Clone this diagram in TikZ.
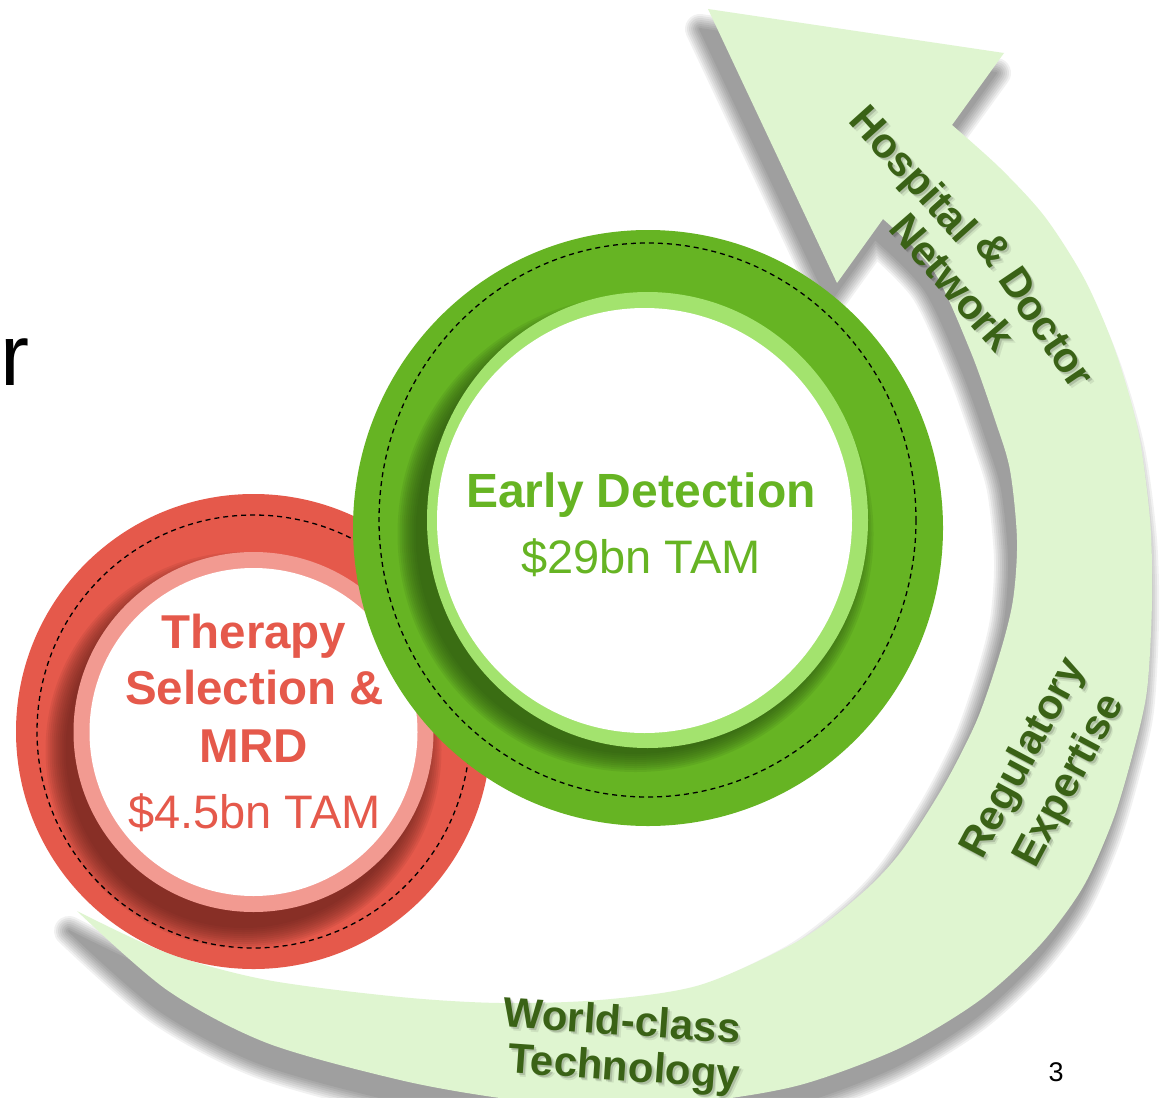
\documentclass[tikz,border=0pt]{standalone}
\usepackage{fontspec}
\setmainfont{Liberation Sans}
\usetikzlibrary{calc}

\definecolor{bandgreen}{HTML}{DFF5D0}
\definecolor{labelgreen}{HTML}{3A6216}
\definecolor{ringgreen}{HTML}{66B423}
\definecolor{lightgreen}{HTML}{A3E36E}
\definecolor{darkgreen}{HTML}{284E0F}
\definecolor{ringred}{HTML}{E5594B}
\definecolor{pinkred}{HTML}{F29A91}
\definecolor{darkred}{HTML}{5B1D17}

\tikzset{
  bandshape/.style={insert path={(708,9) -- (1004,53) -- (952,125)
    -- plot[smooth] coordinates {(952,125) (1000,168) (1045,217) (1085,280) (1115,350) (1138,430) (1150,520) (1152,600) (1147,690) (1133,753) (1113,820) (1083,887) (1040,945) (980,1000) (900,1048) (800,1085) (700,1102) (600,1108) (500,1098) (400,1080) (267,1043) (167,990) (77,911)}
    -- plot[smooth] coordinates {(77,911) (167,953) (267,980) (400,997) (500,1003) (600,1000) (700,985) (800,940) (860,895) (900,853) (943,787) (977,720) (1000,653) (1013,600) (1017,540) (1010,470) (995,420) (970,350) (933,270) (883,219)}
    -- (837,283) -- cycle}},
  dashline/.style={black, line width=1.3pt, dash pattern=on 5pt off 4pt},
  lbl/.style={font=\bfseries\fontsize{42}{50}\selectfont, text=labelgreen, inner sep=0pt},
  lblshade/.style={lbl, text=black, opacity=#1}
}

\newcommand{\bandlabel}[4]{%
  \node[lblshade=0.08, rotate=#3] (#1-s2) at ($#2+(3.5,3.5)$) {#4};
  \node[lblshade=0.15, rotate=#3] (#1-s1) at ($#2+(2,2)$) {#4};
  \node[lbl, rotate=#3] (#1) at #2 {#4};}

\begin{document}
\begin{tikzpicture}[x=1pt, y=-1pt]
\useasboundingbox (0,0) rectangle (1169,1097);
\fill[white] (0,0) rectangle (1169,1097);

% curved arrow with its shadow
\foreach \w in {30,26,...,2} {
  \begin{scope}[transparency group, opacity=0.055, shift={(-8,20)}]
    \filldraw[black, line width=\w, line join=round, bandshape];
  \end{scope}
}
\fill[bandgreen, bandshape];

% red circle
\fill[ringred] (253.5,731.5) circle (237.5);
\begin{scope}
  \clip (253.5,731.5) circle (237.5);
  \foreach \r in {178,180,...,198}
    \fill[darkred, opacity=0.09] (243.5,750) circle (\r);
\end{scope}
\draw[dashline] (253.5,731.5) circle (216.5);
\fill[pinkred] (253.5,732) circle (180);
\fill[white] (253.5,732) circle (164);

% green circle
\fill[ringgreen] (648,528) ellipse [x radius=295, y radius=298];
\begin{scope}
  \clip (648,528) ellipse [x radius=295, y radius=298];
  \foreach \r in {220,222,...,238}
    \fill[darkgreen, opacity=0.1] (635.5,534) circle (\r);
\end{scope}
\draw[dashline] (647.5,520) ellipse [x radius=268.5, y radius=277];
\fill[lightgreen] (647.5,520) ellipse [x radius=220.5, y radius=228];
\fill[white] (644.5,520.5) ellipse [x radius=207.5, y radius=212.5];

% circle texts
\node[anchor=base, text=ringgreen, font=\bfseries\fontsize{48}{57}\selectfont] (early) at (641,507) {Early Detection};
\node[anchor=base, text=ringgreen, font=\fontsize{47}{57}\selectfont] (earlytam) at (641,573) {\$29bn TAM};
\node[anchor=base, text=ringred, font=\bfseries\fontsize{47.5}{57}\selectfont] (therapy) at (254,648) {Therapy};
\node[anchor=base, text=ringred, font=\bfseries\fontsize{47.5}{57}\selectfont] (selection) at (254.5,704) {Selection \&};
\node[anchor=base, text=ringred, font=\bfseries\fontsize{47.5}{57}\selectfont] (mrd) at (254,762) {MRD};
\node[anchor=base, text=ringred, font=\fontsize{47}{57}\selectfont] (therapytam) at (254.5,828) {\$4.5bn TAM};

% arrow labels
\bandlabel{hospital}{(911,176)}{-48}{Hospital}
\bandlabel{doctor}{(1035,310)}{-56}{\& Doctor}
\bandlabel{network}{(953,282)}{-49}{Network}
\bandlabel{regulatory}{(1024,759)}{62}{Regulatory}
\bandlabel{expertise}{(1070,781)}{62}{Expertise}
\bandlabel{world}{(622,1020)}{-4}{World-class}
\bandlabel{technology}{(624,1070)}{-4}{Technology}

\node[anchor=base west, inner sep=0pt, font=\fontsize{87}{100}\selectfont] (title) at (0,385) {r};
\node[font=\fontsize{27}{30}\selectfont] (pagenum) at (1056,1072) {3};
\end{tikzpicture}
\end{document}
